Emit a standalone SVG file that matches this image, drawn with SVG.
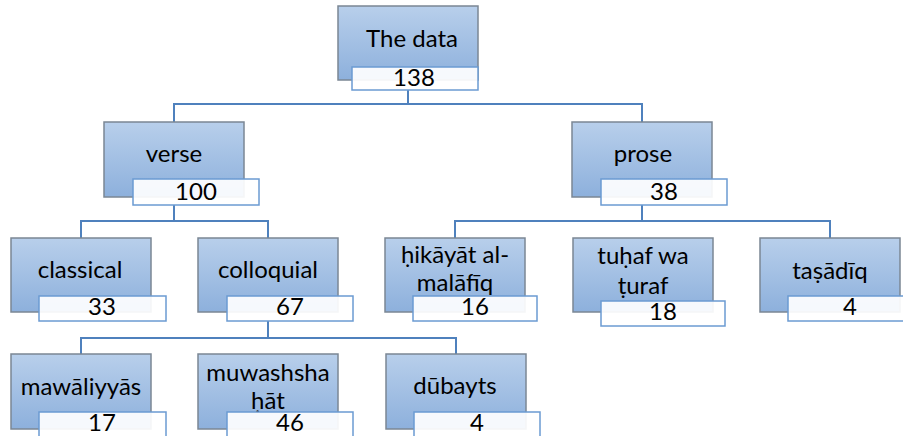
<svg xmlns="http://www.w3.org/2000/svg" width="903" height="436" viewBox="0 0 903 436">
<defs>
<linearGradient id="g" x1="0" y1="0" x2="0" y2="1">
<stop offset="0" stop-color="#b8cfeb"/>
<stop offset="1" stop-color="#8db0dc"/>
</linearGradient>
</defs>
<style>
.m{fill:url(#g);stroke:#7b8794;stroke-width:1.5}
.l{fill:#ffffff;fill-opacity:0.92;stroke:#6b9bd2;stroke-width:1.5}
.t{font-family:Lato,"Noto Sans",sans-serif;font-size:24px;fill:#000;text-anchor:middle}
.n{font-family:Lato,"Noto Sans",sans-serif;font-size:24px;fill:#000;text-anchor:middle}
.c{fill:none;stroke:#4f81bd;stroke-width:2}
</style>
<rect width="903" height="436" fill="#fff"/>
<g id="connectors">
<path class="c" d="M408 90V104M174 122V104H642V122"/>
<path class="c" d="M174 205V221M81 238V221H268V238"/>
<path class="c" d="M642 205V221M455 238V221H830V238"/>
<path class="c" d="M268 321V338M81 354V338H456V354"/>
</g>
<g id="n-data">
<rect class="m" x="338" y="6" width="140" height="74"/>
<text class="t" x="412" y="47">The data</text>
<rect class="l" x="352" y="67" width="126" height="23"/>
<text class="n" x="414" y="86">138</text>
</g>
<g id="n-verse">
<rect class="m" x="104" y="122" width="140" height="75"/>
<text class="t" x="174" y="162">verse</text>
<rect class="l" x="133" y="179" width="126" height="26"/>
<text class="n" x="196" y="200">100</text>
</g>
<g id="n-prose">
<rect class="m" x="572" y="122" width="140" height="75"/>
<text class="t" x="643" y="162">prose</text>
<rect class="l" x="601" y="179" width="126" height="26"/>
<text class="n" x="664" y="200">38</text>
</g>
<g id="n-classical">
<rect class="m" x="11" y="238" width="140" height="74"/>
<text class="t" x="80" y="278">classical</text>
<rect class="l" x="39" y="296" width="127" height="25"/>
<text class="n" x="102" y="315">33</text>
</g>
<g id="n-colloquial">
<rect class="m" x="198" y="238" width="140" height="74"/>
<text class="t" x="268" y="278">colloquial</text>
<rect class="l" x="227" y="296" width="126" height="25"/>
<text class="n" x="290" y="315">67</text>
</g>
<g id="n-hikayat">
<rect class="m" x="385" y="238" width="140" height="74"/>
<text class="t" x="455" y="263">ḥikāyāt al-</text>
<text class="t" x="455" y="291">malāfīq</text>
<rect class="l" x="413" y="296" width="124" height="25"/>
<text class="n" x="475" y="315">16</text>
</g>
<g id="n-tuhaf">
<rect class="m" x="573" y="238" width="140" height="74"/>
<text class="t" x="643" y="264">tuḥaf wa</text>
<text class="t" x="643" y="294">ṭuraf</text>
<rect class="l" x="601" y="301" width="124" height="25"/>
<text class="n" x="663" y="320">18</text>
</g>
<g id="n-tasadiq">
<rect class="m" x="760" y="238" width="140" height="74"/>
<text class="t" x="830" y="279">taṣādīq</text>
<rect class="l" x="788" y="296" width="126" height="25"/>
<text class="n" x="850" y="315">4</text>
</g>
<g id="n-mawaliyyas">
<rect class="m" x="11" y="354" width="140" height="75"/>
<text class="t" x="81" y="395">mawāliyyās</text>
<rect class="l" x="39" y="412" width="127" height="30"/>
<text class="n" x="102" y="431">17</text>
</g>
<g id="n-muwashshahat">
<rect class="m" x="198" y="354" width="140" height="75"/>
<text class="t" x="268" y="381">muwashsha</text>
<text class="t" x="268" y="409">ḥāt</text>
<rect class="l" x="227" y="412" width="126" height="30"/>
<text class="n" x="290" y="431">46</text>
</g>
<g id="n-dubayts">
<rect class="m" x="386" y="354" width="140" height="75"/>
<text class="t" x="455" y="394">dūbayts</text>
<rect class="l" x="414" y="412" width="126" height="30"/>
<text class="n" x="477" y="431">4</text>
</g>
</svg>
